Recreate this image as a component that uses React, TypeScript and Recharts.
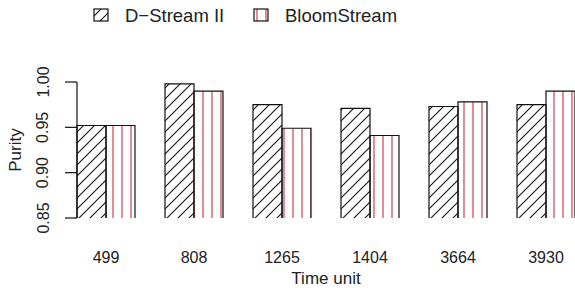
import React from "react"
import { Bar, BarChart, Legend, XAxis, YAxis } from "recharts"

// values
const timeUnits = ["499", "808", "1265", "1404", "3664", "3930"]
const dStream = [0.952, 0.998, 0.975, 0.971, 0.973, 0.975]
const bloomStream = [0.952, 0.99, 0.949, 0.941, 0.978, 0.99]
const yTicks = [0.85, 0.9, 0.95, 1.0]

const data = timeUnits.map((t, i) => ({
  time: t,
  dstream: dStream[i],
  bloom: bloomStream[i],
}))

const FONT = "'Liberation Sans', Arial, Helvetica, sans-serif"
const INK = "#222"

// fill rect with pattern, outline only left/top/right (bottom is clipped in R)
function HatchBar(props: any) {
  const { x, y, width, height, fill } = props
  if (!height || height <= 0) return null
  return (
    <g>
      <rect x={x} y={y} width={width} height={height} fill={fill} />
      <path
        d={`M${x},${y + height} L${x},${y} L${x + width},${y} L${x + width},${y + height}`}
        fill="none"
        stroke="#111"
        strokeWidth={1.2}
      />
    </g>
  )
}

function YTick(props: any) {
  const { x, y, payload } = props
  return (
    <text
      x={x - 20}
      y={y}
      transform={`rotate(-90 ${x - 20} ${y})`}
      textAnchor="middle"
      dominantBaseline="central"
      fontSize={16}
      fontFamily={FONT}
      fill={INK}
    >
      {payload.value.toFixed(2)}
    </text>
  )
}

function PurityLegend() {
  return (
    <div style={{ position: "relative", height: 30 }}>
      <svg width={575} height={30} style={{ position: "absolute", left: 0, top: 0 }}>
        <rect x={94} y={9} width={14} height={12} fill="url(#diag)" stroke="#111" strokeWidth={1.2} />
        <rect x={254} y={9} width={14} height={12} fill="url(#vert)" stroke="#111" strokeWidth={1.2} />
        <text x={125} y={15} dominantBaseline="central" fontSize={18.5} fontFamily={FONT} fill={INK}>
          D−Stream II
        </text>
        <text x={285} y={15} dominantBaseline="central" fontSize={18.5} fontFamily={FONT} fill={INK}>
          BloomStream
        </text>
      </svg>
    </div>
  )
}

export default function App() {
  return (
    <div style={{ position: "absolute", left: 0, top: 0, width: 575, height: 288, background: "#fff", overflow: "hidden" }}>
      <svg width={0} height={0} style={{ position: "absolute" }}>
        <defs>
          <pattern id="diag" patternUnits="userSpaceOnUse" width={11} height={11}>
            <path d="M0,11 L11,0 M-2,2 L2,-2 M9,13 L13,9" stroke="#111" strokeWidth={1.1} />
          </pattern>
          <pattern id="vert" patternUnits="userSpaceOnUse" width={9} height={9}>
            <line x1={5} y1={0} x2={5} y2={9} stroke="#d2505c" strokeWidth={1.3} />
          </pattern>
        </defs>
      </svg>
      <BarChart
        width={575}
        height={288}
        data={data}
        margin={{ top: 52, right: 0, bottom: 0, left: 0 }}
        barGap={0}
        barSize={29}
      >
        <XAxis
          dataKey="time"
          height={70}
          axisLine={false}
          tickLine={false}
          padding={{ left: -15, right: -15 }}
          tick={{ fontSize: 16, fontFamily: FONT, fill: INK, dy: 26 }}
          interval={0}
          label={{
            value: "Time unit",
            position: "insideBottom",
            offset: 0,
            dy: -4,
            fontSize: 17,
            fontFamily: FONT,
            fill: INK,
          }}
        />
        <YAxis
          width={77}
          domain={[0.85, 1.0]}
          ticks={yTicks}
          allowDataOverflow
          axisLine={{ stroke: "#111", strokeWidth: 1.2 }}
          tickLine={{ stroke: "#111", strokeWidth: 1.2 }}
          tickSize={12}
          tick={<YTick />}
          label={{
            value: "Purity",
            angle: -90,
            position: "insideLeft",
            offset: 15,
            fontSize: 17,
            fontFamily: FONT,
            fill: INK,
            style: { textAnchor: "middle" },
          }}
        />
        <Legend verticalAlign="top" wrapperStyle={{ top: 0, left: 0, width: 575 }} content={<PurityLegend />} />
        <Bar dataKey="dstream" name="D-Stream II" fill="url(#diag)" shape={<HatchBar />} isAnimationActive={false} />
        <Bar dataKey="bloom" name="BloomStream" fill="url(#vert)" shape={<HatchBar />} isAnimationActive={false} />
      </BarChart>
    </div>
  )
}
